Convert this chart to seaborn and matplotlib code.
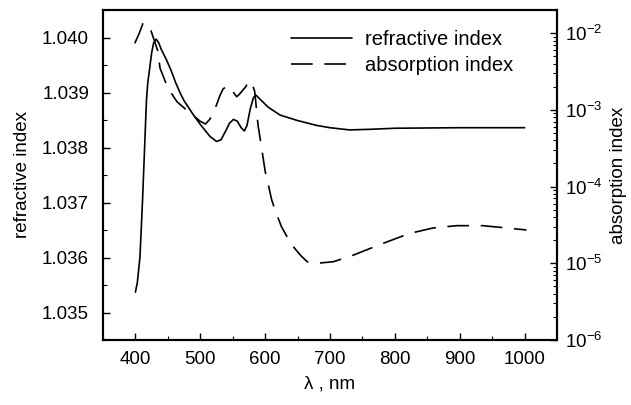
import numpy as np
import pandas as pd
import matplotlib
matplotlib.use("Agg")
import matplotlib.pyplot as plt
import matplotlib.ticker as mticker
from matplotlib.lines import Line2D
import seaborn as sns

# refractive index (solid)
n_wl = [400, 403, 407, 411, 417, 419, 425, 428, 432, 436, 440, 448, 455, 462, 469,
        475, 489, 500, 515, 525, 532, 540, 545, 551, 557, 563, 568, 572, 577, 582,
        586, 592, 605, 623, 650, 680, 700, 730, 760, 800, 900, 1000]
n_val = [1.03537, 1.03555, 1.03601, 1.03705, 1.03886, 1.03917, 1.03972, 1.03990,
         1.03997, 1.03990, 1.03978, 1.03959, 1.03940, 1.03918, 1.03899,
         1.03885, 1.03860, 1.03842, 1.03820, 1.03811, 1.03814, 1.03832, 1.03844,
         1.03851, 1.03848, 1.03836, 1.03830, 1.03840, 1.03870, 1.03891,
         1.03895, 1.03888, 1.03873, 1.03859, 1.03849, 1.03840, 1.03836,
         1.03832, 1.03833, 1.03835, 1.03836, 1.03836]

# absorption index (dashed, log scale)
k_wl = [399, 406, 412, 418, 424, 434, 438, 450, 464, 484, 500, 508, 515, 520, 525,
        530, 535, 541, 545, 550, 556, 560, 565, 570, 574, 577, 580, 584, 589, 595,
        600, 605, 610, 615, 625, 640, 655, 665, 680, 705, 731, 782, 823, 859, 895,
        936, 972, 1003]
k_log = [-2.133, -2.0, -1.864, -1.90, -1.969, -2.22, -2.459, -2.715, -2.894, -3.041,
         -3.15, -3.185, -3.12, -3.03, -2.937,
         -2.82, -2.73, -2.69, -2.70, -2.76, -2.829, -2.80, -2.75, -2.70, -2.64,
         -2.624, -2.66, -2.764, -3.198, -3.52,
         -3.80, -3.98, -4.17, -4.30, -4.52, -4.75, -4.90, -4.98, -5.0, -4.98,
         -4.91, -4.74, -4.61, -4.54, -4.51, -4.51, -4.54, -4.566]
k_val = [10 ** v for v in k_log]

x_ticks = [400, 500, 600, 700, 800, 900, 1000]
n_ticks = [1.035, 1.036, 1.037, 1.038, 1.039, 1.040]
series_names = ["refractive index", "absorption index"]

sns.set_style("ticks")
plt.rcParams["font.family"] = ["Liberation Sans", "DejaVu Sans"]
plt.rcParams["font.size"] = 13.5
plt.rcParams["mathtext.fontset"] = "custom"
plt.rcParams["mathtext.rm"] = "Liberation Sans"
for key in ["text.color", "axes.labelcolor", "xtick.color", "ytick.color",
            "axes.edgecolor"]:
    plt.rcParams[key] = "black"

fig = plt.figure(figsize=(6.31, 4.05), dpi=100)
ax = fig.add_axes([103 / 631, 1 - 340 / 405, (557 - 103) / 631, (340 - 10) / 405])
ax2 = ax.twinx()

df_n = pd.DataFrame({"wl": n_wl, "n": n_val})
df_k = pd.DataFrame({"wl": k_wl, "k": k_val})

dash = (0, (13, 7))
sns.lineplot(data=df_n, x="wl", y="n", ax=ax, color="black", lw=1.2, sort=False)
sns.lineplot(data=df_k, x="wl", y="k", ax=ax2, color="black", lw=1.2, sort=False,
             linestyle=dash)

ax.set_xlim(350, 1050)
ax.set_ylim(1.0345, 1.0405)
ax2.set_yscale("log")
ax2.set_ylim(1e-6, 2e-2)

ax.set_xticks(x_ticks)
ax.xaxis.set_minor_locator(mticker.MultipleLocator(50))
ax.set_yticks(n_ticks)
ax.yaxis.set_major_formatter(mticker.FormatStrFormatter("%.3f"))
ax.yaxis.set_minor_locator(mticker.MultipleLocator(0.0005))
ax2.yaxis.set_major_locator(mticker.LogLocator(base=10, numticks=10))
ax2.yaxis.set_minor_locator(mticker.LogLocator(base=10, subs=np.arange(2, 10), numticks=20))
ax2.yaxis.set_minor_formatter(mticker.NullFormatter())

for a in (ax, ax2):
    a.tick_params(which="major", direction="in", length=5, width=1, labelsize=13.5,
                  color="black", labelcolor="black")
    a.tick_params(which="minor", direction="in", length=3, width=0.8, color="black")
    for s in a.spines.values():
        s.set_linewidth(1.5)
        s.set_color("black")
ax.tick_params(axis="y", which="both", right=False, pad=10)
ax.tick_params(axis="x", which="both", top=False, pad=8)
ax2.tick_params(axis="y", which="major", pad=6)

ax.set_xlabel("λ , nm", fontsize=13.5, labelpad=5, color="black")
ax.set_ylabel("refractive index", fontsize=13.5, labelpad=8, color="black")
ax2.set_ylabel("absorption index", fontsize=13.5, labelpad=5, color="black")

handles = [Line2D([], [], color="black", lw=1.2),
           Line2D([], [], color="black", lw=1.2, linestyle=dash)]
leg = ax2.legend(handles, series_names, loc="upper right", frameon=False,
                 fontsize=14.5, handlelength=3.0, handletextpad=0.65,
                 labelspacing=0.35, borderpad=0, borderaxespad=0,
                 bbox_to_anchor=(0.903, 0.94))
for t in leg.get_texts():
    t.set_color("black")

fig.savefig("out.png", dpi=100)
